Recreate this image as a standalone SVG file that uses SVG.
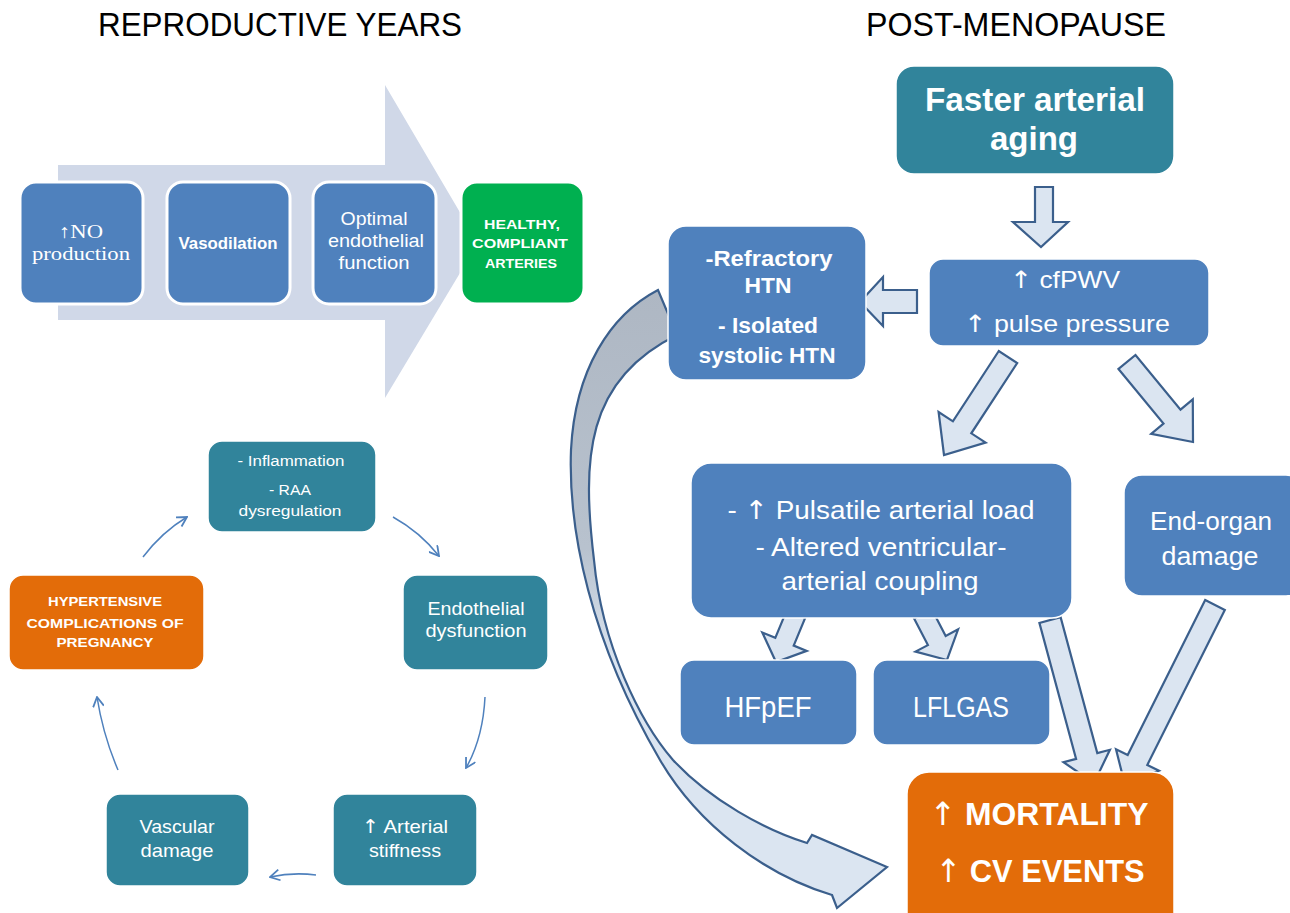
<svg xmlns="http://www.w3.org/2000/svg" width="1290" height="913" viewBox="0 0 1290 913">
<defs>
<style>
.t{font-family:"Liberation Sans","DejaVu Sans",sans-serif;fill:#fff;text-anchor:middle}
.s{font-family:"Liberation Serif","DejaVu Serif",serif;fill:#fff;text-anchor:middle}
.b{font-weight:bold}
.ar{font-family:"DejaVu Sans",sans-serif;font-weight:normal}
.ttl{font-family:"Liberation Sans","DejaVu Sans",sans-serif;fill:#000;text-anchor:middle;font-size:33px}
.blue{fill:#4f81bd;stroke:#fff;stroke-width:1.5}
.blueW{fill:#4f81bd;stroke:#fff;stroke-width:3}
.teal{fill:#31849b;stroke:#fff;stroke-width:1.5}
.orange{fill:#e36c09;stroke:#fff;stroke-width:1.5}
.green{fill:#00b050;stroke:#fff;stroke-width:3}
.blk{fill:#dbe5f1;stroke:#3b5f8c;stroke-width:2.2;stroke-linejoin:miter}
.thin{fill:none;stroke:#4f81bd;stroke-width:1.5;marker-end:url(#ah)}
</style>
<marker id="ah" markerWidth="12" markerHeight="12" refX="9" refY="5" orient="auto" markerUnits="userSpaceOnUse" viewBox="0 0 10 10">
<path d="M1,0.5 L9,5 L1,9.5" fill="none" stroke="#4f81bd" stroke-width="1.5"/>
</marker>
<linearGradient id="rib" gradientUnits="userSpaceOnUse" x1="0" y1="290" x2="0" y2="760">
<stop offset="0" stop-color="#aeb7c3"/>
<stop offset="0.55" stop-color="#b8c2ce"/>
<stop offset="0.8" stop-color="#dbe5f1"/>
<stop offset="1" stop-color="#dbe5f1"/>
</linearGradient>
</defs>
<rect width="1290" height="913" fill="#fff"/>

<text class="ttl" x="280" y="36" textLength="364" lengthAdjust="spacingAndGlyphs">REPRODUCTIVE YEARS</text>
<text class="ttl" x="1016" y="36" textLength="300" lengthAdjust="spacingAndGlyphs">POST-MENOPAUSE</text>

<g id="bigArrow">
<polygon points="58,165 385,165 385,85 478,243 385,398 385,320 58,320" fill="#d0d8e8"/>
</g>

<g id="connectors">
<path d="M658,290 C610,315 575,370 571,450 C568,530 590,640 660,760 C698,825 765,875 832,895 L837,908 L887,867 L812,835 L807,843 C765,830 710,800 673,760 C640,722 602,645 594,560 C582,460 585,380 677,335 Z" fill="url(#rib)" stroke="#3b5f8c" stroke-width="2.2" stroke-linejoin="miter"/>
<polygon class="blk" points="1035,187 1053,187 1053,222 1068,222 1041,247 1013,222 1035,222"/>
<polygon class="blk" points="917,290 883,290 883,277 860,302 883,326 883,313 917,313"/>
<polygon class="blk" points="998.8,351 952.9,421.3 938.6,412 944,455 985.6,442.6 971.3,433.3 1017.2,363"/>
<polygon class="blk" points="1118.5,369 1163.5,423.6 1151.2,433.8 1193,442 1192.8,399.4 1180.5,409.6 1135.5,355"/>
<polygon class="blk" points="786.8,610.1 775.3,637.8 762.3,632.5 776,662 806.7,650.9 793.7,645.6 805.2,617.9"/>
<polygon class="blk" points="914.1,618.6 927.9,645.1 915.5,651.6 947,660 958.1,629.4 945.7,635.9 931.9,609.4"/>
<polygon class="blk" points="1039.4,622.9 1076.1,758.9 1063.5,762.2 1094,783 1109.9,749.8 1097.3,753.1 1060.6,617.1"/>
<polygon class="blk" points="1205.2,600.1 1127.7,755.1 1116,749.3 1125,785 1159,770.7 1147.3,764.9 1224.8,609.9"/>
<path class="thin" d="M393,517 Q420,532 439,556"/>
<path class="thin" d="M485,697 Q483,738 466,768"/>
<path class="thin" d="M316,875 Q293,872 270,877"/>
<path class="thin" d="M118,770 Q103,735 97,697"/>
<path class="thin" d="M143,557 Q162,532 187,517"/>
</g>

<g id="n-no">
<rect class="blueW" x="20" y="182" width="123" height="122" rx="16"/>
<text class="s" font-size="19" x="81" y="238" textLength="44" lengthAdjust="spacingAndGlyphs">↑NO</text>
<text class="s" font-size="19" x="81" y="260" textLength="98" lengthAdjust="spacingAndGlyphs">production</text>
</g>
<g id="n-vaso">
<rect class="blueW" x="167" y="182" width="123" height="122" rx="16"/>
<text class="t b" font-size="16" x="228" y="249" textLength="99" lengthAdjust="spacingAndGlyphs">Vasodilation</text>
</g>
<g id="n-optimal">
<rect class="blueW" x="313" y="182" width="123" height="122" rx="16"/>
<text class="t" font-size="18" x="374" y="225" textLength="67" lengthAdjust="spacingAndGlyphs">Optimal</text>
<text class="t" font-size="18" x="376" y="247" textLength="96" lengthAdjust="spacingAndGlyphs">endothelial</text>
<text class="t" font-size="18" x="374" y="269" textLength="71" lengthAdjust="spacingAndGlyphs">function</text>
</g>
<g id="n-healthy">
<rect class="green" x="461" y="182" width="123" height="122" rx="16"/>
<text class="t b" font-size="13" x="522" y="229" textLength="76" lengthAdjust="spacingAndGlyphs">HEALTHY,</text>
<text class="t b" font-size="13" x="520" y="248" textLength="96" lengthAdjust="spacingAndGlyphs">COMPLIANT</text>
<text class="t b" font-size="13" x="521" y="268" textLength="72" lengthAdjust="spacingAndGlyphs">ARTERIES</text>
</g>

<g id="n-inflam">
<rect class="teal" x="208" y="441" width="168" height="91" rx="14"/>
<text class="t" font-size="14" x="291" y="466" textLength="107" lengthAdjust="spacingAndGlyphs">- Inflammation</text>
<text class="t" font-size="14" x="290" y="495" textLength="42" lengthAdjust="spacingAndGlyphs">- RAA</text>
<text class="t" font-size="14" x="290" y="516" textLength="103" lengthAdjust="spacingAndGlyphs">dysregulation</text>
</g>
<g id="n-endo">
<rect class="teal" x="403" y="575" width="145" height="95" rx="14"/>
<text class="t" font-size="19" x="476" y="615" textLength="97" lengthAdjust="spacingAndGlyphs">Endothelial</text>
<text class="t" font-size="19" x="476" y="637" textLength="101" lengthAdjust="spacingAndGlyphs">dysfunction</text>
</g>
<g id="n-stiff">
<rect class="teal" x="333" y="794" width="144" height="92" rx="14"/>
<text class="t" font-size="19" x="405" y="833" textLength="86" lengthAdjust="spacingAndGlyphs"><tspan class="ar">↑</tspan> Arterial</text>
<text class="t" font-size="19" x="405" y="857" textLength="72" lengthAdjust="spacingAndGlyphs">stiffness</text>
</g>
<g id="n-vascular">
<rect class="teal" x="106" y="794" width="143" height="92" rx="14"/>
<text class="t" font-size="19" x="177" y="833" textLength="75" lengthAdjust="spacingAndGlyphs">Vascular</text>
<text class="t" font-size="19" x="177" y="857" textLength="73" lengthAdjust="spacingAndGlyphs">damage</text>
</g>
<g id="n-htn-preg">
<rect class="orange" x="9" y="575" width="195" height="95" rx="14"/>
<text class="t b" font-size="13" x="105" y="606" textLength="114" lengthAdjust="spacingAndGlyphs">HYPERTENSIVE</text>
<text class="t b" font-size="13" x="105" y="628" textLength="157" lengthAdjust="spacingAndGlyphs">COMPLICATIONS OF</text>
<text class="t b" font-size="13" x="105" y="647" textLength="97" lengthAdjust="spacingAndGlyphs">PREGNANCY</text>
</g>

<g id="n-faster">
<rect class="teal" x="896" y="66" width="278" height="108" rx="18"/>
<text class="t b" font-size="34" x="1035" y="111" textLength="220" lengthAdjust="spacingAndGlyphs">Faster arterial</text>
<text class="t b" font-size="34" x="1034" y="150" textLength="88" lengthAdjust="spacingAndGlyphs">aging</text>
</g>
<g id="n-cfpwv">
<rect class="blue" x="929" y="259" width="280" height="87" rx="14"/>
<text class="t" font-size="24" x="1065" y="288" textLength="110" lengthAdjust="spacingAndGlyphs"><tspan class="ar">↑</tspan> cfPWV</text>
<text class="t" font-size="24" x="1067" y="332" textLength="206" lengthAdjust="spacingAndGlyphs"><tspan class="ar">↑</tspan> pulse pressure</text>
</g>
<g id="n-refractory">
<rect class="blue" x="668" y="226" width="198" height="154" rx="18"/>
<text class="t b" font-size="22" x="769" y="266" textLength="127" lengthAdjust="spacingAndGlyphs">-Refractory</text>
<text class="t b" font-size="22" x="768" y="293" textLength="47" lengthAdjust="spacingAndGlyphs">HTN</text>
<text class="t b" font-size="22" x="768" y="333" textLength="100" lengthAdjust="spacingAndGlyphs">- Isolated</text>
<text class="t b" font-size="22" x="767" y="363" textLength="137" lengthAdjust="spacingAndGlyphs">systolic HTN</text>
</g>
<g id="n-pulsatile">
<rect class="blue" x="691" y="463" width="381" height="155" rx="20"/>
<text class="t" font-size="26" x="881" y="519" textLength="307" lengthAdjust="spacingAndGlyphs">- <tspan class="ar">↑</tspan> Pulsatile arterial load</text>
<text class="t" font-size="26" x="881" y="556" textLength="251" lengthAdjust="spacingAndGlyphs">- Altered ventricular-</text>
<text class="t" font-size="26" x="880" y="590" textLength="197" lengthAdjust="spacingAndGlyphs">arterial coupling</text>
</g>
<g id="n-endorgan">
<rect class="blue" x="1124" y="475" width="180" height="121" rx="18"/>
<text class="t" font-size="26" x="1211" y="530" textLength="122" lengthAdjust="spacingAndGlyphs">End-organ</text>
<text class="t" font-size="26" x="1210" y="565" textLength="97" lengthAdjust="spacingAndGlyphs">damage</text>
</g>
<g id="n-hfpef">
<rect class="blue" x="680" y="660" width="177" height="85" rx="14"/>
<text class="t" font-size="30" x="768" y="717" textLength="87" lengthAdjust="spacingAndGlyphs">HFpEF</text>
</g>
<g id="n-lflgas">
<rect class="blue" x="873" y="660" width="177" height="85" rx="14"/>
<text class="t" font-size="30" x="961" y="717" textLength="96" lengthAdjust="spacingAndGlyphs">LFLGAS</text>
</g>
<g id="n-mortality">
<rect class="orange" x="907" y="772" width="267" height="170" rx="22"/>
<text class="t b" font-size="32" x="1039" y="825" textLength="219" lengthAdjust="spacingAndGlyphs"><tspan class="ar">↑</tspan> MORTALITY</text>
<text class="t b" font-size="32" x="1040" y="882" textLength="209" lengthAdjust="spacingAndGlyphs"><tspan class="ar">↑</tspan> CV EVENTS</text>
</g>
</svg>
